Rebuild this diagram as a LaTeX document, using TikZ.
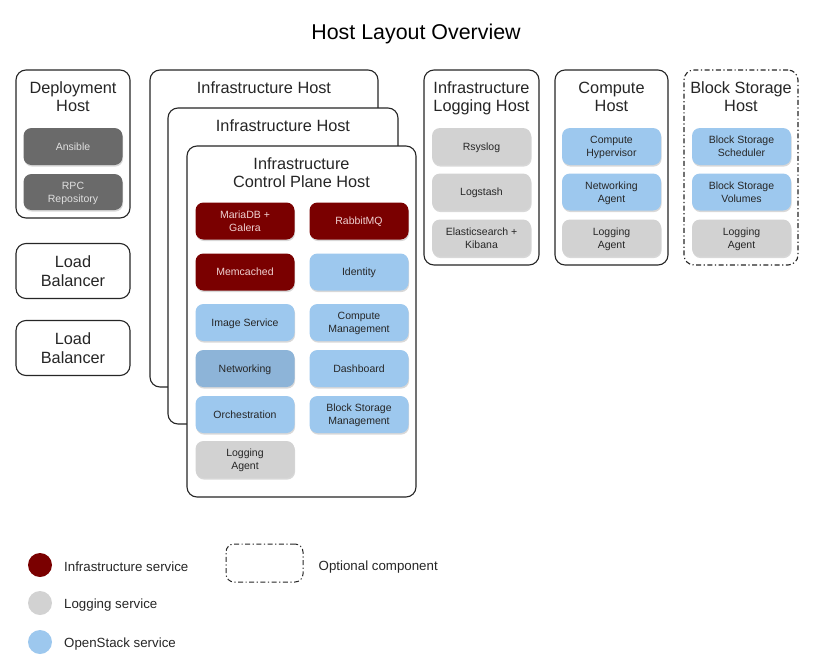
\documentclass[tikz,border=0pt]{standalone}
\usepackage{fontspec}
\setmainfont{Liberation Sans}
\usetikzlibrary{positioning,shadows}

\definecolor{infred}{HTML}{7A0000}
\definecolor{infpink}{HTML}{F0D2D2}
\definecolor{loggray}{HTML}{D2D2D2}
\definecolor{osblue}{HTML}{9DC8EE}
\definecolor{netblue}{HTML}{8DB4D8}
\definecolor{depgray}{HTML}{6A6A6A}

\begin{document}
\begin{tikzpicture}[
    x=1pt,
    y=-1pt,
    hostbox/.style={draw=black!85, line width=1.1pt, rounded corners=10pt, fill=white, inner sep=0pt},
    optbox/.style={hostbox, dash pattern=on 5pt off 2.5pt on 1.2pt off 2.5pt},
    hosttitle/.style={align=center, inner sep=0pt, font=\fontsize{16.3}{18.5}\selectfont, text=black!85},
    svc/.style={rounded corners=8pt, minimum width=99pt, minimum height=37pt, align=center,
      inner sep=0pt, text depth=-1.5pt, font=\fontsize{10.5}{13}\selectfont, text=black!85,
      drop shadow={shadow xshift=0.6pt, shadow yshift=-1.6pt, opacity=0.3}},
    infsvc/.style={svc, fill=infred, text=infpink},
    logsvc/.style={svc, fill=loggray},
    ossvc/.style={svc, fill=osblue},
    depsvc/.style={svc, fill=depgray, text=black!12},
    legtext/.style={anchor=west, inner sep=0pt, yshift=-2pt, font=\fontsize{13.3}{15}\selectfont, text=black!85}
]
\useasboundingbox (0,0) rectangle (815,670);

\node[font=\fontsize{21.4}{24}\selectfont] (title) at (416,34) {Host Layout Overview};

% deployment host and load balancers
\node[hostbox, minimum width=114pt, minimum height=148pt] (deploy) at (73,144) {};
\node[hosttitle, below=12pt of deploy.north] (deployt) {Deployment\\Host};
\node[depsvc] (ansible) at (73,146.5) {Ansible};
\node[depsvc, minimum height=36pt] (rpc) at (73,192) {RPC\\Repository};

\node[hostbox, minimum width=114pt, minimum height=55pt, hosttitle] (lba) at (73,271) {Load\\Balancer};
\node[hostbox, minimum width=114pt, minimum height=55pt, hosttitle] (lbb) at (73,348) {Load\\Balancer};

% stacked infrastructure hosts
\node[hostbox, minimum width=228pt, minimum height=317pt] (infra) at (264,228.5) {};
\node[hosttitle, below=12pt of infra.north] (infrat) {Infrastructure Host};
\node[hostbox, minimum width=230pt, minimum height=316pt] (infrb) at (283,266) {};
\node[hosttitle, below=12pt of infrb.north] (infrbt) {Infrastructure Host};
\node[hostbox, minimum width=229pt, minimum height=351pt] (ctrl) at (301.5,321.5) {};
\node[hosttitle, below=12pt of ctrl.north] (ctrlt) {Infrastructure\\Control Plane Host};

\node[infsvc] (maria) at (245,221) {MariaDB +\\Galera};
\node[infsvc] (rabbit) at (359,221) {RabbitMQ};
\node[infsvc] (memc) at (245,272) {Memcached};
\node[ossvc] (ident) at (359,272) {Identity};
\node[ossvc] (image) at (245,322.5) {Image Service};
\node[ossvc] (compm) at (359,322.5) {Compute\\Management};
\node[svc, fill=netblue] (netw) at (245,368.5) {Networking};
\node[ossvc] (dash) at (359,368.5) {Dashboard};
\node[ossvc] (orch) at (245,414.5) {Orchestration};
\node[ossvc] (blockm) at (359,414.5) {Block Storage\\Management};
\node[logsvc] (ctrlla) at (245,459.5) {Logging\\Agent};

% logging, compute and block storage hosts
\node[hostbox, minimum width=115pt, minimum height=195pt] (logh) at (481.5,167.5) {};
\node[hosttitle, below=12pt of logh.north] (loght) {Infrastructure\\Logging Host};
\node[hostbox, minimum width=113pt, minimum height=195pt] (comph) at (611.5,167.5) {};
\node[hosttitle, below=12pt of comph.north] (compht) {Compute\\Host};
\node[optbox, minimum width=114pt, minimum height=195pt] (blockh) at (741,167.5) {};
\node[hosttitle, below=12pt of blockh.north] (blockht) {Block Storage\\Host};

\foreach \y/\n/\lab in {146.5/rsys/{Rsyslog}, 192/logst/{Logstash}, 238/elk/{Elasticsearch +\\Kibana}}{
  \node[logsvc] (\n) at (481.5,\y) {\lab};
}
\foreach \y/\n/\lab in {146.5/hyper/{Compute\\Hypervisor}, 192/neta/{Networking\\Agent}}{
  \node[ossvc] (\n) at (611.5,\y) {\lab};
}
\node[logsvc] (compla) at (611.5,238) {Logging\\Agent};
\foreach \y/\n/\lab in {146.5/sched/{Block Storage\\Scheduler}, 192/vols/{Block Storage\\Volumes}}{
  \node[ossvc] (\n) at (741.5,\y) {\lab};
}
\node[logsvc] (blockla) at (741.5,238) {Logging\\Agent};

% legend
\foreach \y/\c/\n/\lab in {565/infred/leginf/{Infrastructure service},
                           603/loggray/leglog/{Logging service},
                           642/osblue/legos/{OpenStack service}}{
  \node[circle, fill=\c, minimum size=24pt, inner sep=0pt] (\n) at (40,\y) {};
  \node[legtext, right=24pt of \n.center] (\n t) {\lab};
}
\node[optbox, line width=1pt, rounded corners=8pt, minimum width=77pt, minimum height=38pt] (legopt) at (264.5,563) {};
\node[legtext, right=15pt of legopt.east, yshift=-2pt] (legoptt) {Optional component};
\end{tikzpicture}
\end{document}
